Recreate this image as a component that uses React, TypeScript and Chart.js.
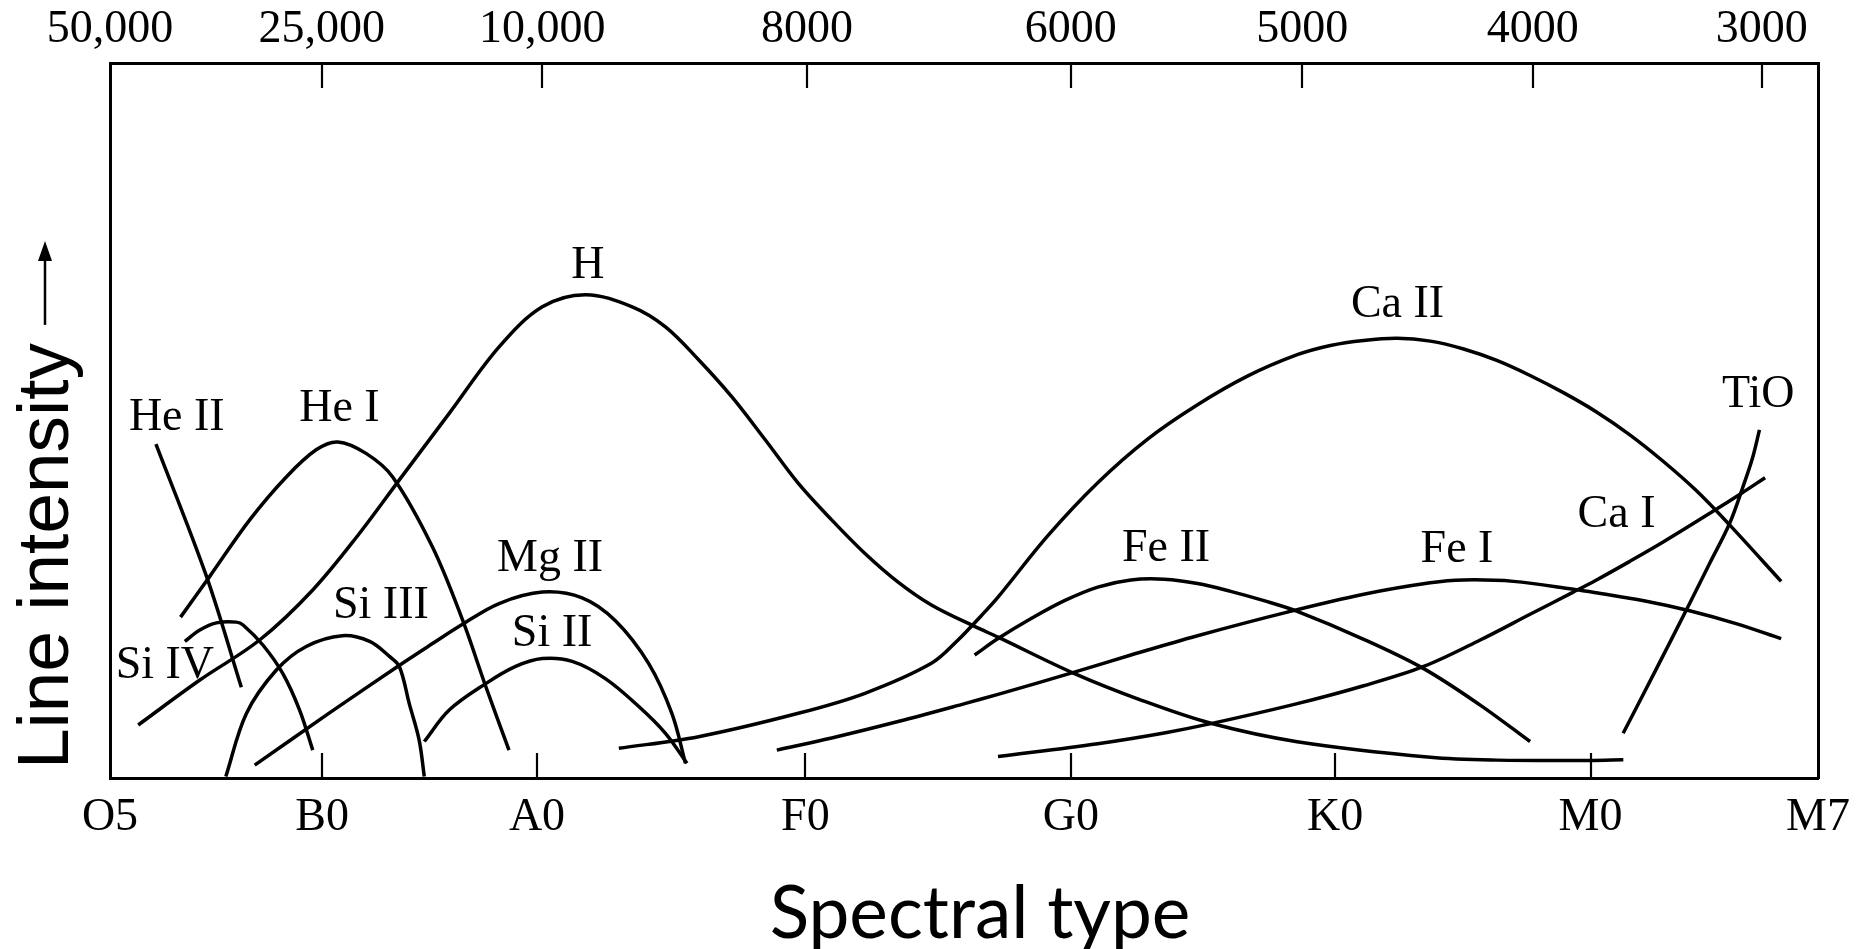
import React, { useEffect, useRef } from "react";
import { Chart, registerables } from "chart.js";

Chart.register(...registerables);

// ---- Axis ticks (x: 0 = O5 ... 100 = M7, positions) ----
const SPECTRAL_TYPES = ["O5", "B0", "A0", "F0", "G0", "K0", "M0", "M7"];
const SPECTRAL_POS = [0, 12.42, 25.0, 40.71, 56.25, 71.73, 86.68, 100];
const TEMP_LABELS = ["50,000", "25,000", "10,000", "8000", "6000", "5000", "4000", "3000"];
const TEMP_POS = [0, 12.4, 25.3, 40.8, 56.25, 69.8, 83.3, 96.7];

// ---- Series (x in spectral-axis units, y = relative line intensity 0..100) ----
const HEII_X = [2.69, 5.65, 7.69];
const HEII_Y = [46.7, 28.2, 12.7];

const HEI_X = [4.13, 5.84, 8.18, 10.32, 12.07, 13.34, 14.99, 16.55, 18.88, 20.64, 22.0, 23.36];
const HEI_Y = [22.5, 28.2, 36.1, 42.1, 45.9, 47.0, 45.4, 42.1, 32.3, 22.1, 12.8, 3.9];

const H_X = [1.65, 5.26, 8.76, 11.87, 14.6, 16.94, 19.86, 22.78, 25.31, 27.84, 30.57, 32.52, 34.46, 36.41, 38.36, 40.3, 42.25, 44.2, 46.14, 48.09, 50.62, 51.99, 56.47, 60.36, 64.45, 69.5, 77.3, 81.2, 86.64, 88.6];
const H_Y = [7.41, 13.7, 19.3, 26.3, 34.2, 41.7, 51.0, 60.3, 65.9, 67.6, 65.9, 63.1, 58.5, 53.3, 47.3, 41.2, 36.1, 31.4, 27.4, 24.2, 21.2, 19.7, 14.6, 10.9, 7.65, 5.08, 2.9, 2.5, 2.45, 2.55];

const SIIV_X = [4.38, 5.26, 6.23, 7.4, 7.79, 8.95, 10.12, 11.1, 11.87];
const SIIV_Y = [19.1, 20.7, 21.7, 21.8, 21.4, 18.6, 14.6, 9.5, 3.9];

const SIIII_X = [6.78, 7.98, 9.74, 11.49, 13.6, 15.2, 16.36, 16.94, 17.52, 18.1, 18.4];
const SIIII_Y = [0.2, 9.0, 15.1, 18.4, 19.9, 19.1, 17.0, 15.6, 10.4, 5.3, 0.2];

const MGII_X = [8.47, 12.85, 16.84, 18.88, 20.64, 22.78, 25.31, 27.64, 29.59, 31.54, 32.9, 33.69];
const MGII_Y = [1.8, 9.1, 15.6, 18.8, 21.5, 24.4, 26.0, 25.2, 22.0, 16.0, 9.0, 2.06];

const SIII_X = [18.4, 19.86, 22.0, 23.75, 25.31, 27.06, 29.0, 30.96, 32.52, 33.78];
const SIII_Y = [5.1, 9.5, 13.2, 15.6, 16.7, 16.3, 13.9, 10.0, 6.25, 2.06];

const CAII_X = [29.79, 34.46, 40.3, 44.2, 48.09, 49.65, 51.01, 51.99, 54.91, 57.83, 60.75, 63.67, 66.59, 69.51, 71.45, 73.4, 75.35, 77.3, 79.25, 81.19, 83.14, 85.09, 87.03, 88.98, 90.93, 92.87, 94.82, 97.84];
const CAII_Y = [4.15, 5.78, 9.05, 11.85, 16.04, 19.3, 22.7, 25.3, 33.9, 41.3, 47.4, 52.2, 56.2, 59.2, 60.5, 61.2, 61.5, 61.1, 60.0, 58.4, 56.3, 53.9, 51.2, 48.0, 44.3, 40.2, 35.4, 27.5];

const FEII_X = [50.62, 51.99, 53.93, 55.88, 57.83, 59.77, 61.72, 63.67, 65.61, 67.56, 69.51, 73.4, 76.91, 80.22, 83.14];
const FEII_Y = [17.2, 19.5, 22.3, 24.8, 26.7, 27.7, 27.8, 27.2, 26.1, 24.8, 23.3, 19.4, 15.3, 10.2, 5.1];

const FEI_X = [39.04, 42.25, 46.14, 50.04, 51.99, 56.46, 59.77, 63.67, 68.93, 73.4, 77.29, 79.25, 82.17, 85.67, 87.03, 89.8, 92.48, 95.2, 97.84];
const FEI_Y = [3.9, 5.6, 7.9, 10.4, 11.7, 14.8, 17.2, 19.9, 23.2, 25.7, 27.3, 27.7, 27.5, 26.4, 25.9, 24.8, 23.4, 21.6, 19.5];

const CAI_X = [51.99, 57.83, 61.72, 64.45, 69.51, 73.4, 76.91, 80.22, 83.14, 85.67, 87.03, 88.98, 90.93, 93.85, 95.5, 96.9];
const CAI_Y = [3.0, 4.8, 6.3, 7.6, 10.4, 12.9, 15.6, 19.3, 22.9, 26.0, 27.7, 30.3, 33.0, 37.3, 39.8, 42.0];

const TIO_X = [88.59, 90.54, 92.48, 93.65, 94.82, 95.6, 96.18, 96.57];
const TIO_Y = [6.25, 15.3, 24.4, 30.0, 35.6, 40.7, 44.9, 48.7];

const SERIES_NAMES = ["He II", "He I", "H", "Si IV", "Si III", "Mg II", "Si II", "Ca II", "Fe II", "Fe I", "Ca I", "TiO"];
const SERIES_X = [HEII_X, HEI_X, H_X, SIIV_X, SIIII_X, MGII_X, SIII_X, CAII_X, FEII_X, FEI_X, CAI_X, TIO_X];
const SERIES_Y = [HEII_Y, HEI_Y, H_Y, SIIV_Y, SIIII_Y, MGII_Y, SIII_Y, CAII_Y, FEII_Y, FEI_Y, CAI_Y, TIO_Y];

// Curve label anchors (data units)
const LABEL_TEXT = ["H", "He II", "He I", "Si IV", "Si III", "Mg II", "Si II", "Ca II", "Fe II", "Fe I", "Ca I", "TiO"];
const LABEL_X = [27.98, 3.91, 13.43, 3.21, 15.86, 25.76, 25.88, 75.38, 61.83, 78.86, 88.2, 96.5];
const LABEL_Y = [71.6, 50.3, 51.6, 15.7, 24.1, 30.6, 20.1, 66.1, 32.0, 31.9, 36.8, 53.6];

const X_TITLE = "Spectral type";
const Y_TITLE = "Line intensity";

const SERIF = "'Liberation Serif', 'Times New Roman', serif";
const SANS = "'Liberation Sans', Arial, sans-serif";

const inwardTicks = {
  id: "inwardTicks",
  afterDraw(chart: any) {
    const { ctx, chartArea } = chart;
    const xb = chart.scales.x;
    const xt = chart.scales.xTop;
    ctx.save();
    ctx.strokeStyle = "#000";
    ctx.lineWidth = 2.2;
    ctx.beginPath();
    SPECTRAL_POS.slice(1, -1).forEach((v) => {
      const px = Math.round(xb.getPixelForValue(v));
      ctx.moveTo(px, chartArea.bottom);
      ctx.lineTo(px, chartArea.bottom - 25);
    });
    TEMP_POS.slice(1).forEach((v) => {
      const px = Math.round(xt.getPixelForValue(v));
      ctx.moveTo(px, chartArea.top);
      ctx.lineTo(px, chartArea.top + 25);
    });
    ctx.stroke();
    ctx.restore();
  },
};

const curveLabels = {
  id: "curveLabels",
  afterDatasetsDraw(chart: any) {
    const { ctx } = chart;
    const xs = chart.scales.x;
    const ys = chart.scales.y;
    ctx.save();
    ctx.fillStyle = "#000";
    ctx.font = `46px ${SERIF}`;
    ctx.textAlign = "center";
    ctx.textBaseline = "middle";
    LABEL_TEXT.forEach((t, i) => {
      ctx.fillText(t, xs.getPixelForValue(LABEL_X[i]), ys.getPixelForValue(LABEL_Y[i]));
    });
    ctx.restore();
  },
};

const axisTitles = {
  id: "axisTitles",
  afterDraw(chart: any) {
    const { ctx, chartArea } = chart;
    ctx.save();
    ctx.fillStyle = "#000";
    ctx.strokeStyle = "#000";

    // x title
    ctx.font = `73px Lato, 'Open Sans', sans-serif`;
    ctx.textAlign = "center";
    ctx.textBaseline = "alphabetic";
    ctx.fillText(X_TITLE, (chartArea.left + chartArea.right) / 2 + 16, chartArea.bottom + 160);

    // y title with arrow
    const baseX = chartArea.left - 42;
    const startY = chartArea.bottom - 9;
    ctx.font = `73px ${SANS}`;
    ctx.translate(baseX, startY);
    ctx.rotate(-Math.PI / 2);
    ctx.textAlign = "left";
    ctx.fillText(Y_TITLE, 0, 0);
    const w = ctx.measureText(Y_TITLE).width;
    const a0 = w + 18;
    const a1 = a0 + 84;
    const ay = -23;
    ctx.lineWidth = 2.5;
    ctx.beginPath();
    ctx.moveTo(a0, ay);
    ctx.lineTo(a1 - 14, ay);
    ctx.stroke();
    ctx.beginPath();
    ctx.moveTo(a1, ay);
    ctx.lineTo(a1 - 20, ay - 7);
    ctx.lineTo(a1 - 20, ay + 7);
    ctx.closePath();
    ctx.fill();
    ctx.restore();
  },
};

export default function App() {
  const canvasRef = useRef<HTMLCanvasElement | null>(null);

  useEffect(() => {
    document.body.style.margin = "0";
    document.body.style.overflow = "hidden";
    const canvas = canvasRef.current;
    if (!canvas) return;

    const datasets = SERIES_NAMES.map((name, i) => ({
      label: name,
      data: SERIES_X[i].map((x, j) => ({ x, y: SERIES_Y[i][j] })),
      borderColor: "#000",
      borderWidth: 3.5,
      pointRadius: 0,
      fill: false,
      tension: 0.35,
      borderCapStyle: "butt" as const,
      borderJoinStyle: "round" as const,
    }));

    const chart = new Chart(canvas, {
      type: "line",
      data: { datasets },
      options: {
        animation: false,
        responsive: true,
        maintainAspectRatio: false,
        layout: { padding: 0 },
        plugins: { legend: { display: false }, tooltip: { enabled: false } },
        scales: {
          x: {
            type: "linear",
            position: "bottom",
            min: 0,
            max: 100,
            afterFit: (s: any) => {
              s.height = 171;
            },
            afterBuildTicks: (s: any) => {
              s.ticks = SPECTRAL_POS.map((v) => ({ value: v }));
            },
            grid: { display: false, drawTicks: false },
            border: { display: true, color: "#000", width: 3 },
            ticks: {
              autoSkip: false,
              maxRotation: 0,
              minRotation: 0,
              padding: 12,
              color: "#000",
              font: { family: SERIF, size: 46 },
              callback: (_v: any, i: number) => SPECTRAL_TYPES[i],
            },
          },
          xTop: {
            type: "linear",
            position: "top",
            min: 0,
            max: 100,
            afterFit: (s: any) => {
              s.height = 63;
            },
            afterBuildTicks: (s: any) => {
              s.ticks = TEMP_POS.map((v) => ({ value: v }));
            },
            grid: { display: false, drawTicks: false },
            border: { display: true, color: "#000", width: 3 },
            ticks: {
              autoSkip: false,
              maxRotation: 0,
              minRotation: 0,
              padding: 5,
              color: "#000",
              font: { family: SERIF, size: 46 },
              callback: (_v: any, i: number) => TEMP_LABELS[i],
            },
          },
          y: {
            type: "linear",
            position: "left",
            min: 0,
            max: 100,
            afterFit: (s: any) => {
              s.width = 110;
            },
            grid: { display: false, drawTicks: false },
            border: { display: true, color: "#000", width: 3 },
            ticks: { display: false },
          },
          yRight: {
            type: "linear",
            position: "right",
            min: 0,
            max: 100,
            afterFit: (s: any) => {
              s.width = 40;
            },
            grid: { display: false, drawTicks: false },
            border: { display: true, color: "#000", width: 3 },
            ticks: { display: false },
          },
        },
      },
      plugins: [inwardTicks, curveLabels, axisTitles],
    });

    return () => {
      chart.destroy();
    };
  }, []);

  return (
    <div style={{ width: "1862px", height: "949px", position: "relative" }}>
      <canvas ref={canvasRef} />
    </div>
  );
}
